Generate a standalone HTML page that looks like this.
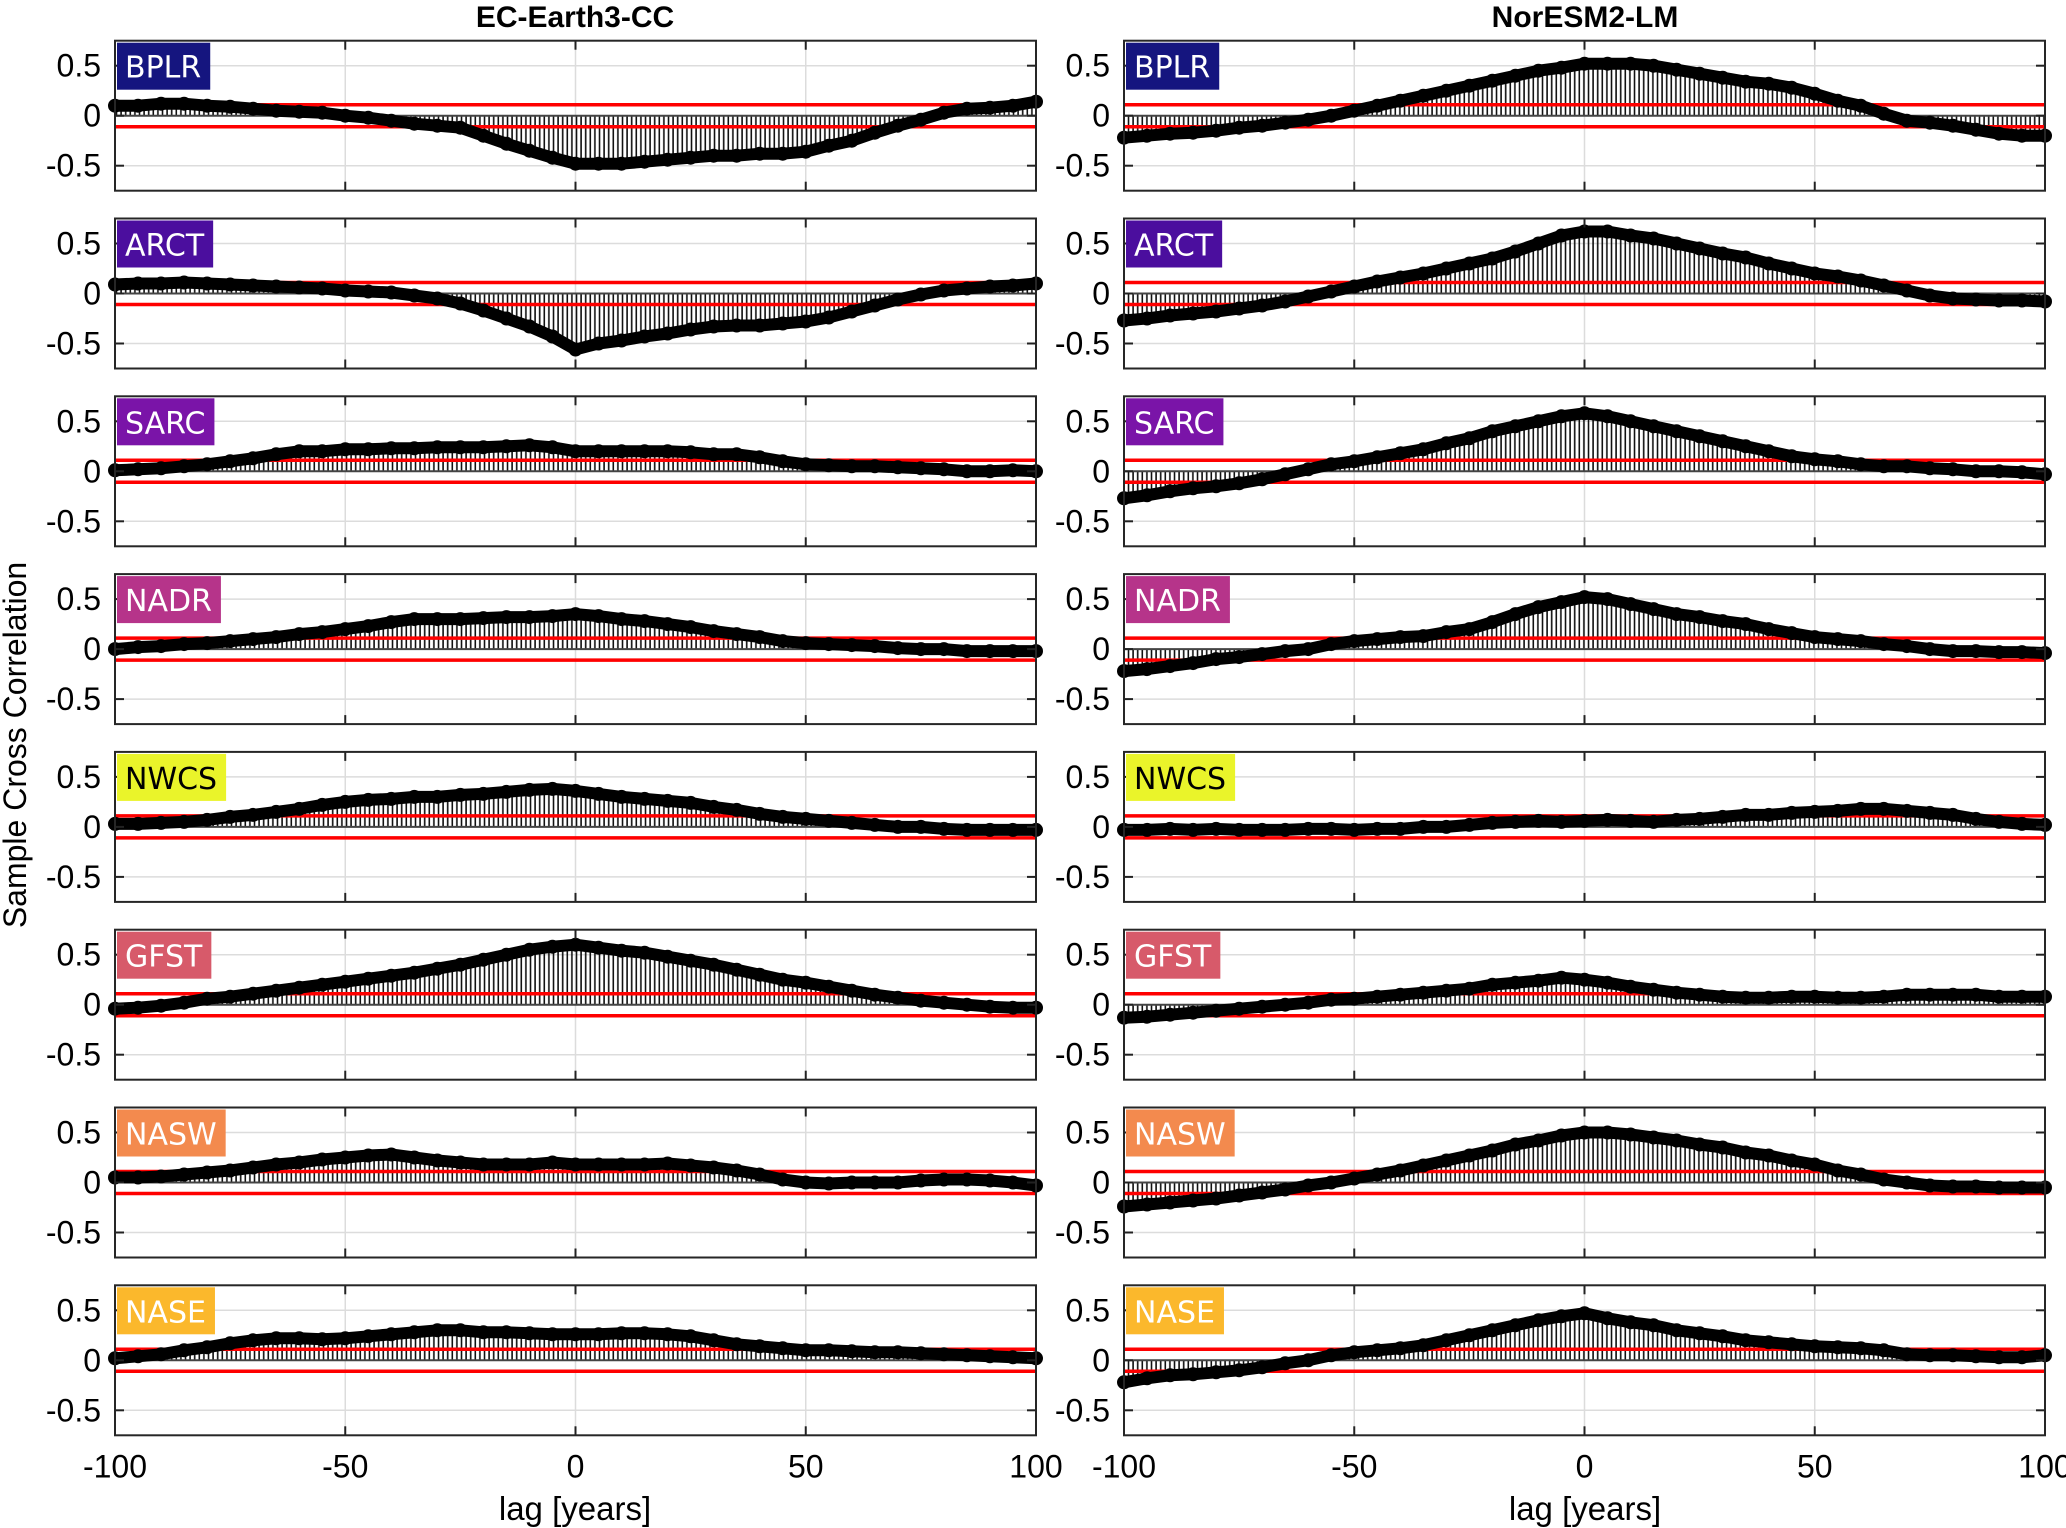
<!DOCTYPE html>
<html><head><meta charset="utf-8"><style>
html,body{margin:0;padding:0;background:#fff;}
svg{display:block;font-family:"Liberation Sans",sans-serif;}
</style></head><body>
<svg id="chart" width="2066" height="1528" viewBox="0 0 2066 1528" xmlns="http://www.w3.org/2000/svg">
<defs>
<pattern id="hatch" width="4.6" height="10" patternUnits="userSpaceOnUse"><line x1="1.5" y1="0" x2="1.5" y2="10" stroke="#111" stroke-width="1.6"/></pattern>
</defs>
<text x="575" y="27" text-anchor="middle" font-size="30" font-weight="bold">EC-Earth3-CC</text>
<text x="1585" y="27" text-anchor="middle" font-size="30" font-weight="bold">NorESM2-LM</text>
<text transform="translate(26,745) rotate(-90)" text-anchor="middle" font-size="32">Sample Cross Correlation</text>
<text x="575" y="1520" text-anchor="middle" font-size="33">lag [years]</text>
<text x="1585" y="1520" text-anchor="middle" font-size="33">lag [years]</text>
<g id="panels"></g>
</svg>
<script>
const lags = [-100,-95,-90,-85,-80,-75,-70,-65,-60,-55,-50,-45,-40,-35,-30,-25,-20,-15,-10,-5,0,5,10,15,20,25,30,35,40,45,50,55,60,65,70,75,80,85,90,95,100];
const regions = ["BPLR","ARCT","SARC","NADR","NWCS","GFST","NASW","NASE"];
const regionColors = ["#15157f","#4b0e9e","#7a14a8","#b6348a","#eaf42a","#d75a6a","#f38a4e","#fbb82c"];
const regionText = ["#fff","#fff","#fff","#fff","#000","#fff","#fff","#fff"];
const xTicks = [-100,-50,0,50,100];
const yTicks = [0.5,0,-0.5];
const yTickLabels = ["0.5","0","-0.5"];
const confBound = 0.11;

const ecBPLR = [0.1,0.1,0.12,0.12,0.1,0.09,0.07,0.05,0.04,0.03,0.0,-0.02,-0.05,-0.08,-0.1,-0.12,-0.2,-0.28,-0.35,-0.42,-0.48,-0.48,-0.48,-0.46,-0.44,-0.42,-0.4,-0.4,-0.38,-0.38,-0.36,-0.3,-0.25,-0.17,-0.1,-0.04,0.03,0.07,0.08,0.1,0.14];
const ecARCT = [0.09,0.1,0.1,0.11,0.1,0.09,0.08,0.07,0.06,0.05,0.03,0.02,0.01,-0.02,-0.05,-0.1,-0.17,-0.25,-0.33,-0.43,-0.56,-0.5,-0.47,-0.43,-0.4,-0.36,-0.33,-0.32,-0.32,-0.3,-0.28,-0.24,-0.18,-0.12,-0.06,-0.01,0.03,0.05,0.07,0.08,0.1];
const ecSARC = [0.01,0.02,0.03,0.05,0.07,0.1,0.13,0.17,0.2,0.2,0.22,0.22,0.23,0.23,0.24,0.24,0.24,0.25,0.26,0.24,0.2,0.2,0.2,0.2,0.2,0.19,0.17,0.17,0.14,0.1,0.07,0.06,0.05,0.05,0.04,0.03,0.02,0.0,0.0,0.01,0.0];
const ecNADR = [0.0,0.02,0.03,0.05,0.06,0.08,0.1,0.12,0.15,0.17,0.2,0.23,0.27,0.3,0.3,0.3,0.31,0.32,0.32,0.33,0.35,0.33,0.3,0.28,0.25,0.22,0.18,0.15,0.12,0.08,0.06,0.05,0.04,0.03,0.01,0.0,0.0,-0.02,-0.02,-0.02,-0.02];
const ecNWCS = [0.03,0.03,0.04,0.05,0.07,0.1,0.12,0.15,0.18,0.22,0.25,0.27,0.28,0.3,0.3,0.32,0.33,0.35,0.37,0.38,0.36,0.33,0.3,0.28,0.26,0.24,0.2,0.17,0.13,0.1,0.08,0.06,0.04,0.02,0.0,0.0,-0.02,-0.03,-0.03,-0.03,-0.03];
const ecGFST = [-0.04,-0.03,-0.01,0.02,0.06,0.08,0.11,0.14,0.17,0.2,0.23,0.26,0.29,0.32,0.36,0.4,0.45,0.5,0.55,0.58,0.6,0.57,0.54,0.52,0.48,0.44,0.4,0.35,0.3,0.25,0.22,0.18,0.14,0.1,0.07,0.04,0.02,0.0,-0.02,-0.03,-0.03];
const ecNASW = [0.05,0.05,0.06,0.08,0.1,0.12,0.15,0.18,0.2,0.23,0.25,0.27,0.28,0.25,0.22,0.2,0.18,0.18,0.18,0.2,0.18,0.18,0.18,0.18,0.19,0.17,0.15,0.12,0.08,0.03,0.0,-0.01,0.0,0.0,0.0,0.02,0.03,0.03,0.02,0.0,-0.03];
const ecNASE = [0.02,0.04,0.06,0.1,0.13,0.17,0.2,0.22,0.22,0.21,0.22,0.24,0.26,0.28,0.3,0.3,0.28,0.28,0.27,0.26,0.26,0.26,0.27,0.27,0.26,0.24,0.2,0.16,0.14,0.12,0.1,0.1,0.09,0.08,0.08,0.07,0.06,0.05,0.04,0.03,0.02];

const norBPLR = [-0.22,-0.2,-0.18,-0.17,-0.15,-0.12,-0.1,-0.07,-0.04,0.0,0.05,0.1,0.15,0.2,0.25,0.3,0.35,0.4,0.45,0.48,0.52,0.52,0.52,0.5,0.46,0.42,0.38,0.34,0.32,0.28,0.22,0.15,0.1,0.02,-0.05,-0.07,-0.1,-0.14,-0.18,-0.2,-0.2];
const norARCT = [-0.27,-0.25,-0.22,-0.2,-0.18,-0.15,-0.12,-0.08,-0.03,0.02,0.07,0.12,0.16,0.2,0.25,0.3,0.35,0.42,0.5,0.58,0.62,0.62,0.58,0.55,0.5,0.45,0.4,0.36,0.3,0.25,0.2,0.17,0.13,0.08,0.03,-0.02,-0.05,-0.06,-0.07,-0.07,-0.08];
const norSARC = [-0.27,-0.24,-0.2,-0.17,-0.15,-0.12,-0.08,-0.03,0.02,0.07,0.1,0.14,0.18,0.22,0.28,0.33,0.4,0.45,0.5,0.55,0.58,0.55,0.5,0.45,0.4,0.35,0.3,0.25,0.2,0.15,0.12,0.1,0.07,0.05,0.05,0.03,0.02,0.0,0.0,-0.01,-0.03];
const norNADR = [-0.22,-0.2,-0.17,-0.14,-0.1,-0.08,-0.05,-0.02,0.0,0.05,0.08,0.1,0.12,0.13,0.17,0.2,0.27,0.35,0.42,0.47,0.52,0.5,0.45,0.4,0.35,0.32,0.28,0.25,0.2,0.16,0.12,0.1,0.08,0.05,0.03,0.0,-0.02,-0.02,-0.03,-0.03,-0.04];
const norNWCS = [-0.03,-0.03,-0.02,-0.03,-0.02,-0.03,-0.03,-0.03,-0.02,-0.02,-0.03,-0.02,-0.02,0.0,0.0,0.02,0.04,0.05,0.06,0.05,0.06,0.07,0.06,0.05,0.07,0.08,0.1,0.12,0.12,0.14,0.15,0.16,0.18,0.18,0.16,0.14,0.12,0.08,0.05,0.03,0.02];
const norGFST = [-0.13,-0.12,-0.1,-0.08,-0.06,-0.04,-0.02,0.0,0.02,0.05,0.06,0.08,0.1,0.12,0.14,0.16,0.2,0.22,0.24,0.27,0.25,0.22,0.18,0.15,0.12,0.1,0.08,0.07,0.07,0.08,0.08,0.07,0.07,0.08,0.1,0.1,0.1,0.1,0.08,0.08,0.08];
const norNASW = [-0.24,-0.22,-0.2,-0.18,-0.16,-0.13,-0.1,-0.07,-0.03,0.0,0.04,0.08,0.12,0.17,0.22,0.27,0.32,0.38,0.42,0.47,0.5,0.5,0.48,0.45,0.42,0.38,0.35,0.3,0.27,0.22,0.18,0.12,0.08,0.03,0.0,-0.03,-0.04,-0.04,-0.05,-0.05,-0.05];
const norNASE = [-0.22,-0.18,-0.15,-0.14,-0.12,-0.1,-0.07,-0.03,0.0,0.05,0.08,0.1,0.12,0.15,0.2,0.25,0.3,0.35,0.4,0.44,0.47,0.42,0.38,0.35,0.3,0.27,0.24,0.2,0.18,0.16,0.14,0.13,0.12,0.1,0.06,0.05,0.05,0.04,0.03,0.03,0.05];

const ecSeries = [ecBPLR,ecARCT,ecSARC,ecNADR,ecNWCS,ecGFST,ecNASW,ecNASE];
const norSeries = [norBPLR,norARCT,norSARC,norNADR,norNWCS,norGFST,norNASW,norNASE];

const NS = "http://www.w3.org/2000/svg";
const root = document.getElementById("panels");
const colX = [115, 1124];
const plotW = 921, plotH = 150, top0 = 40.7, pitch = 177.8;
const yMin = -0.75, yMax = 0.75;

function mk(tag, attrs, parent){
  const e = document.createElementNS(NS, tag);
  for (const k in attrs) e.setAttribute(k, attrs[k]);
  parent.appendChild(e);
  return e;
}

[ecSeries, norSeries].forEach((seriesSet, c) => {
  const model = c === 0 ? "ec" : "nor";
  seriesSet.forEach((vals, r) => {
    const x0 = colX[c], y0 = top0 + r * pitch;
    const xs = v => x0 + (v + 100) / 200 * plotW;
    const ys = v => y0 + (yMax - v) / (yMax - yMin) * plotH;
    const g = mk("g", {}, root);
    
    
    mk("rect", {x:x0, y:y0, width:plotW, height:plotH, fill:"#fff"}, g);
    xTicks.slice(1,-1).forEach(t => mk("line", {x1:xs(t), x2:xs(t), y1:y0, y2:y0+plotH, stroke:"#dcdcdc", "stroke-width":1.5}, g));
    yTicks.forEach(t => mk("line", {x1:x0, x2:x0+plotW, y1:ys(t), y2:ys(t), stroke:"#dcdcdc", "stroke-width":1.5}, g));
    let d = "M" + xs(lags[0]) + "," + ys(0);
    lags.forEach((l, i) => { d += " L" + xs(l) + "," + ys(vals[i]); });
    d += " L" + xs(lags[lags.length-1]) + "," + ys(0) + " Z";
    const stems = mk("path", {d:d, fill:"url(#hatch)"}, g);
    
    
    mk("line", {x1:x0, x2:x0+plotW, y1:ys(0), y2:ys(0), stroke:"#444", "stroke-width":2}, g);
    [confBound, -confBound].forEach(b => {
      const ln = mk("line", {x1:x0, x2:x0+plotW, y1:ys(b), y2:ys(b), stroke:"#f00", "stroke-width":3.5}, g);
      
      
    });
    const pts = lags.map((l, i) => xs(l) + "," + ys(vals[i])).join(" ");
    const pl = mk("polyline", {points:pts, fill:"none", stroke:"#000", "stroke-width":12, "stroke-linejoin":"round", "stroke-linecap":"round"}, g);
    
    
    lags.forEach((l, i) => {
      const p = mk("circle", {cx:xs(l), cy:ys(vals[i]), r:7, fill:"#000"}, g);
      
      
    });
    xTicks.forEach(t => {
      mk("line", {x1:xs(t), x2:xs(t), y1:y0, y2:y0+9, stroke:"#222", "stroke-width":2}, g);
      mk("line", {x1:xs(t), x2:xs(t), y1:y0+plotH, y2:y0+plotH-9, stroke:"#222", "stroke-width":2}, g);
    });
    yTicks.forEach((t, i) => {
      mk("line", {x1:x0, x2:x0+9, y1:ys(t), y2:ys(t), stroke:"#222", "stroke-width":2}, g);
      mk("line", {x1:x0+plotW, x2:x0+plotW-9, y1:ys(t), y2:ys(t), stroke:"#222", "stroke-width":2}, g);
      const tl = mk("text", {x:x0-14, y:ys(t)+11, "text-anchor":"end", "font-size":32}, g);
      tl.textContent = yTickLabels[i];
      
      
    });
    mk("rect", {x:x0, y:y0, width:plotW, height:plotH, fill:"none", stroke:"#262626", "stroke-width":2}, g);
    const lbl = mk("g", {}, g);
    
    
    const bx = mk("rect", {x:x0+2, y:y0+2, width:100, height:47, fill:regionColors[r]}, lbl);
    const tx = mk("text", {x:x0+10, y:y0+37, "font-size":30, fill:regionText[r], "font-family":"DejaVu Sans, sans-serif"}, lbl);
    tx.textContent = regions[r];
    const w = tx.getComputedTextLength();
    bx.setAttribute("width", w + 17);
    if (r === seriesSet.length - 1) {
      xTicks.forEach(t => {
        const xl = mk("text", {x:xs(t), y:y0+plotH+42, "text-anchor":"middle", "font-size":32}, g);
        xl.textContent = String(t);
        
        
      });
    }
  });
});
</script>
</body></html>
